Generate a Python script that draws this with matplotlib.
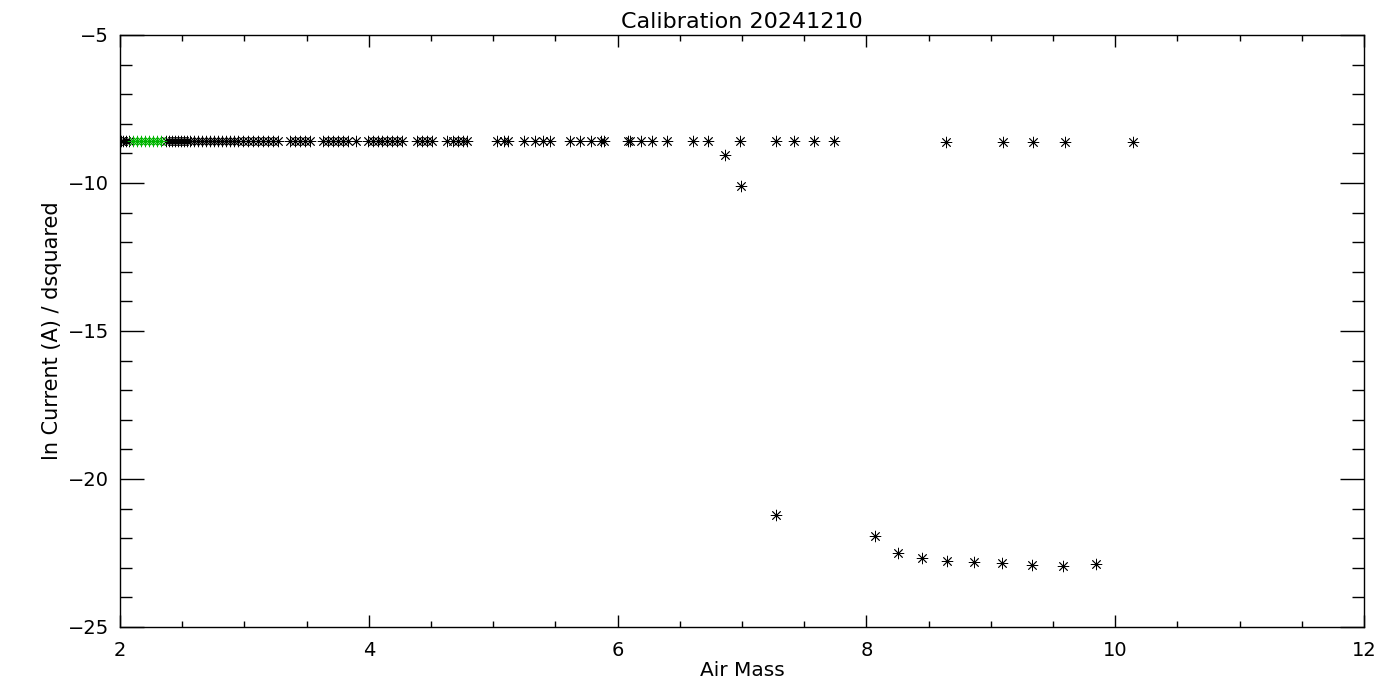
import matplotlib
matplotlib.use("Agg")
import matplotlib.pyplot as plt
from matplotlib.ticker import MultipleLocator

# upper branch (black), air mass values
upper_x = [2.008, 2.024, 2.048, 2.072,
           2.37, 2.394, 2.418, 2.442, 2.466, 2.49, 2.514, 2.539, 2.563, 2.595,
           2.627, 2.659, 2.691, 2.723, 2.756, 2.788, 2.82, 2.852, 2.884, 2.916,
           2.95, 2.99, 3.03, 3.07, 3.11, 3.15, 3.19, 3.23, 3.27, 3.37, 3.41,
           3.45, 3.49, 3.53, 3.63, 3.67, 3.71, 3.75, 3.79, 3.83, 3.90, 3.99,
           4.03, 4.07, 4.11, 4.15, 4.19, 4.23, 4.27, 4.39, 4.43, 4.47, 4.51,
           4.63, 4.68, 4.72, 4.76, 4.79, 5.03, 5.09, 5.12, 5.25, 5.34, 5.40,
           5.46, 5.62, 5.70, 5.79, 5.87, 5.89, 6.08, 6.10, 6.19, 6.28, 6.40,
           6.61, 6.73, 6.98, 7.27, 7.42, 7.58, 7.74]
upper_y = [-8.58] * len(upper_x)

far_x = [8.64, 9.10, 9.34, 9.60, 10.14]
far_y = [-8.62, -8.62, -8.62, -8.62, -8.62]

# selected points (green)
green_x = [2.105, 2.137, 2.169, 2.201, 2.233, 2.265, 2.297, 2.33]
green_y = [-8.58] * len(green_x)

# outliers / lower branch
low_x = [6.866, 6.99, 7.276, 8.071, 8.256, 8.449, 8.648, 8.865, 9.09,
         9.331, 9.583, 9.846]
low_y = [-9.05, -10.09, -21.22, -21.93, -22.51, -22.68, -22.77, -22.80,
         -22.85, -22.92, -22.94, -22.88]

plt.rcParams['font.family'] = ['DejaVu Sans']
fig = plt.figure(figsize=(14, 7), dpi=100)
ax = fig.add_axes([120 / 1400, 1 - 627 / 700, 1244 / 1400, 592 / 700])

star = (8, 2, 0)
kw = dict(marker=star, s=60, linewidths=0.6)
ax.scatter(upper_x + far_x, upper_y + far_y, c='black', **kw)
ax.scatter(low_x, low_y, c='black', **kw)
ax.scatter(green_x, green_y, c='#00b400', **kw)

ax.set_xlim(2, 12)
ax.set_ylim(-25, -5)
ax.xaxis.set_major_locator(MultipleLocator(2))
ax.xaxis.set_minor_locator(MultipleLocator(0.5))
ax.yaxis.set_major_locator(MultipleLocator(5))
ax.yaxis.set_minor_locator(MultipleLocator(1))

ax.tick_params(axis='both', which='both', direction='in', top=True,
               right=True, width=1, labelsize=14, colors='black')
ax.tick_params(axis='x', which='major', length=8.6, pad=10)
ax.tick_params(axis='x', which='minor', length=4.3)
ax.tick_params(axis='y', which='major', length=17.3, pad=8)
ax.tick_params(axis='y', which='minor', length=8.6)
for sp in ax.spines.values():
    sp.set_linewidth(1)

ax.set_title('Calibration 20241210', fontsize=16, pad=5)
ax.set_xlabel('Air Mass', fontsize=14.5, labelpad=1)
ax.set_ylabel('ln Current (A) / dsquared', fontsize=15, labelpad=4)

fig.savefig('out.png', dpi=100, facecolor='white')
